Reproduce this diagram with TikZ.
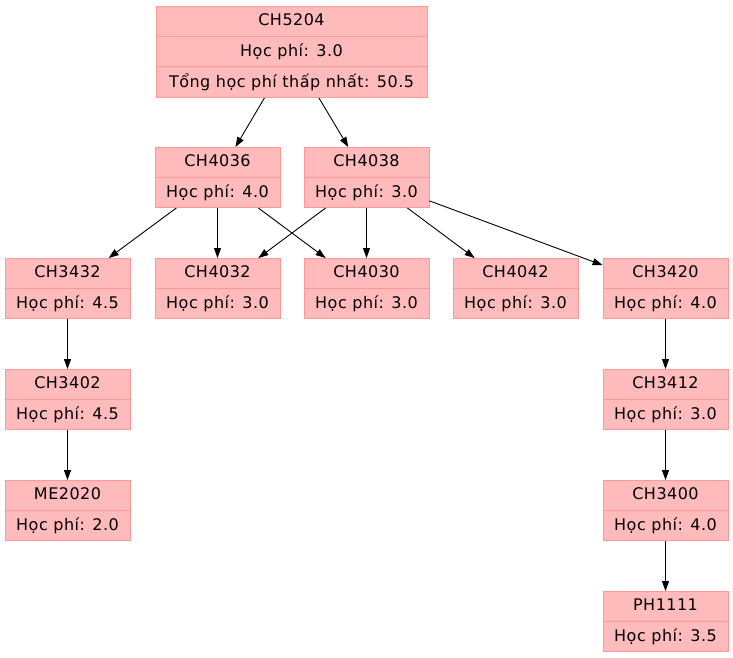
\documentclass[tikz,border=0pt]{standalone}
\usepackage{fontspec}
\setmainfont{DejaVu Sans}[LetterSpace=3]
\usetikzlibrary{shapes.multipart,arrows.meta}
\definecolor{coursefill}{HTML}{FFBBBB}
\definecolor{courseline}{HTML}{FF9999}
\tikzset{
	course/.style={rectangle split, rectangle split parts=2, draw=courseline, fill=coursefill, line width=0.8pt,
		minimum width=125pt, inner ysep=6.6pt, text height=12pt, text depth=4pt, font=\fontsize{16}{18}\selectfont},
	goal/.style={course, rectangle split parts=3, minimum width=271pt},
	prereq/.style={-{Triangle[length=10pt,width=7pt]}, line width=0.9pt}
}

\begin{document}
\begin{tikzpicture}[x=1pt,y=-1pt]
		\useasboundingbox (0,0) rectangle (733,657);
		
		\node[goal] (CH5204) at (291.5,52) {CH5204 \nodepart{two} Học phí: 3.0 \nodepart{three} Tổng học phí thấp nhất: 50.5};
		
		\node[course] (CH4036) at (217.5,177.5) {CH4036 \nodepart{two} Học phí: 4.0};
		\node[course] (CH4038) at (366.5,177.5) {CH4038 \nodepart{two} Học phí: 3.0};
		
		\node[course] (CH3432) at (67.5,288.5) {CH3432 \nodepart{two} Học phí: 4.5};
		\node[course] (CH4032) at (217.5,288.5) {CH4032 \nodepart{two} Học phí: 3.0};
		\node[course] (CH4030) at (366.5,288.5) {CH4030 \nodepart{two} Học phí: 3.0};
		\node[course] (CH4042) at (515.5,288.5) {CH4042 \nodepart{two} Học phí: 3.0};
		\node[course] (CH3420) at (665.5,288.5) {CH3420 \nodepart{two} Học phí: 4.0};
		
		\node[course] (CH3402) at (67.5,399.5) {CH3402 \nodepart{two} Học phí: 4.5};
		\node[course] (ME2020) at (67.5,510.5) {ME2020 \nodepart{two} Học phí: 2.0};
		
		\node[course] (CH3412) at (665.5,399.5) {CH3412 \nodepart{two} Học phí: 3.0};
		\node[course] (CH3400) at (665.5,510.5) {CH3400 \nodepart{two} Học phí: 4.0};
		\node[course] (PH1111) at (665.5,621.5) {PH1111 \nodepart{two} Học phí: 3.5};
		
		\draw[prereq] (CH5204) -- (CH4036);
		\draw[prereq] (CH5204) -- (CH4038);
		\draw[prereq] (CH4036) -- (CH3432);
		\draw[prereq] (CH4036) -- (CH4032);
		\draw[prereq] (CH4036) -- (CH4030);
		\draw[prereq] (CH4038) -- (CH4032);
		\draw[prereq] (CH4038) -- (CH4030);
		\draw[prereq] (CH4038) -- (CH4042);
		\draw[prereq] (CH4038) -- (CH3420);
		\draw[prereq] (CH3432) -- (CH3402);
		\draw[prereq] (CH3402) -- (ME2020);
		\draw[prereq] (CH3420) -- (CH3412);
		\draw[prereq] (CH3412) -- (CH3400);
		\draw[prereq] (CH3400) -- (PH1111);
	\end{tikzpicture}
\end{document}
